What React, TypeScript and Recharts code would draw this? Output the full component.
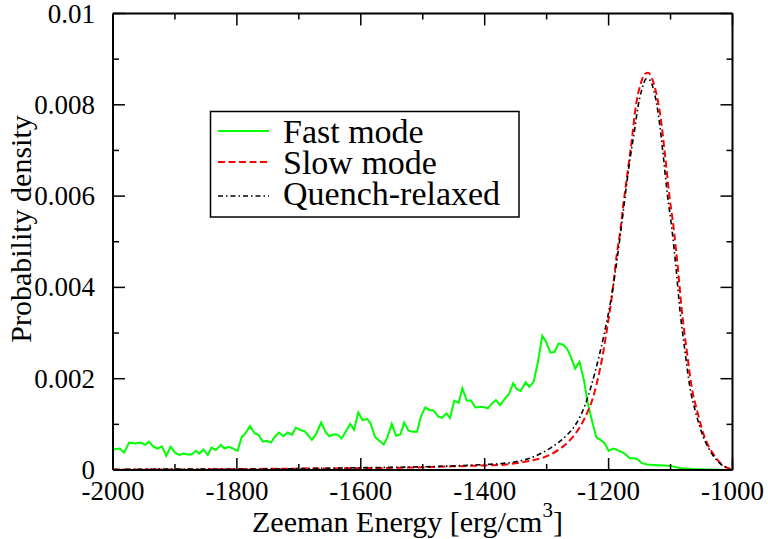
import React from 'react';
import { LineChart, Line, XAxis, YAxis } from 'recharts';

// [energy, probability density]
const fastMode: [number, number][] = [
  [-2000, 0.00045], [-1989, 0.00047], [-1982, 0.00038], [-1974, 0.0006], [-1964, 0.00058],
  [-1955, 0.0006], [-1948, 0.00055], [-1942, 0.00062], [-1935, 0.00051], [-1928, 0.00047],
  [-1921, 0.00052], [-1914, 0.00031], [-1907, 0.00051], [-1900, 0.00038], [-1893, 0.00033],
  [-1886, 0.00036], [-1879, 0.00034], [-1873, 0.00034], [-1866, 0.00042], [-1861, 0.00036],
  [-1854, 0.00045], [-1847, 0.00033], [-1841, 0.00049], [-1834, 0.00044], [-1826, 0.00055],
  [-1820, 0.00047], [-1813, 0.00051], [-1806, 0.00047], [-1799, 0.00042], [-1792, 0.00073],
  [-1787, 0.00079], [-1779, 0.00096], [-1771, 0.0008], [-1765, 0.00077], [-1758, 0.00062],
  [-1752, 0.00064], [-1745, 0.0006], [-1738, 0.00074], [-1732, 0.00082], [-1725, 0.00074],
  [-1718, 0.00082], [-1711, 0.00077], [-1705, 0.00093], [-1698, 0.00088], [-1690, 0.00084],
  [-1679, 0.00066], [-1672, 0.00079], [-1664, 0.00104], [-1657, 0.00084], [-1651, 0.00074],
  [-1643, 0.00078], [-1637, 0.00077], [-1631, 0.00069], [-1624, 0.00085], [-1617, 0.00101],
  [-1611, 0.00088], [-1604, 0.00126], [-1597, 0.00109], [-1590, 0.00112], [-1584, 0.00102],
  [-1577, 0.00072], [-1570, 0.00064], [-1563, 0.00056], [-1557, 0.00072], [-1550, 0.00101],
  [-1543, 0.00075], [-1536, 0.00078], [-1530, 0.00104], [-1523, 0.00086], [-1516, 0.00084],
  [-1509, 0.00084], [-1503, 0.00117], [-1496, 0.00137], [-1489, 0.00131], [-1483, 0.00131],
  [-1475, 0.00117], [-1469, 0.00114], [-1462, 0.00124], [-1456, 0.00114], [-1449, 0.00152],
  [-1442, 0.00147], [-1436, 0.00179], [-1429, 0.00152], [-1422, 0.00152], [-1415, 0.00137],
  [-1408, 0.00138], [-1402, 0.00138], [-1395, 0.00135], [-1388, 0.00146], [-1382, 0.00153],
  [-1375, 0.00142], [-1368, 0.00155], [-1361, 0.00166], [-1354, 0.0019], [-1348, 0.00177],
  [-1342, 0.00173], [-1334, 0.00192], [-1328, 0.00182], [-1321, 0.00193], [-1314, 0.00237],
  [-1307, 0.00294], [-1301, 0.00281], [-1294, 0.00257], [-1287, 0.00259], [-1281, 0.00277],
  [-1274, 0.00275], [-1267, 0.00266], [-1261, 0.00248], [-1254, 0.00222], [-1247, 0.00237],
  [-1240, 0.00198], [-1234, 0.00149], [-1227, 0.00109], [-1220, 0.00072], [-1213, 0.00066],
  [-1206, 0.00058], [-1200, 0.00042], [-1193, 0.00047], [-1186, 0.00044], [-1180, 0.0004],
  [-1173, 0.00035], [-1166, 0.00026], [-1159, 0.00026], [-1153, 0.00023], [-1146, 0.00015],
  [-1138, 0.00012], [-1127, 0.00011], [-1111, 0.0001], [-1100, 0.00009], [-1084, 0.00004],
  [-1063, 0.00002], [-1041, 0.00001], [-1009, 0], [-1000, 0],
];

const slowMode: [number, number][] = [
  [-2000, 0.00001], [-1900, 0.00001], [-1800, 0.00002], [-1700, 0.00003], [-1600, 0.00004],
  [-1500, 0.00006], [-1450, 0.00008], [-1400, 0.0001], [-1375, 0.00011], [-1350, 0.00015],
  [-1320, 0.00022], [-1295, 0.00033], [-1280, 0.00045], [-1262, 0.00066], [-1246, 0.00095],
  [-1234, 0.00127], [-1226, 0.00155], [-1219, 0.0019], [-1210, 0.00248], [-1202, 0.00314],
  [-1194, 0.00387], [-1187, 0.0047], [-1181, 0.00525], [-1176, 0.00584], [-1169, 0.00656],
  [-1162, 0.00729], [-1157, 0.00788], [-1148, 0.00847], [-1141, 0.00868], [-1136, 0.0087],
  [-1130, 0.00858], [-1124, 0.00831], [-1116, 0.00772], [-1109, 0.00691], [-1102, 0.00602],
  [-1095, 0.0053], [-1088, 0.0044], [-1082, 0.00352], [-1074, 0.00263], [-1066, 0.00183],
  [-1056, 0.00124], [-1045, 0.00072], [-1031, 0.00035], [-1018, 0.00013], [-1003, 0.00002],
];

const quenchRelaxed: [number, number][] = [
  [-2000, 0.00001], [-1900, 0.00002], [-1800, 0.00002], [-1700, 0.00003], [-1600, 0.00005],
  [-1500, 0.00007], [-1450, 0.00009], [-1400, 0.00012], [-1375, 0.00014], [-1350, 0.00018],
  [-1321, 0.00029], [-1294, 0.00048], [-1267, 0.00077], [-1257, 0.00092], [-1246, 0.00117],
  [-1237, 0.00146], [-1221, 0.00219], [-1207, 0.00299], [-1196, 0.00375], [-1188, 0.00445],
  [-1183, 0.00495], [-1176, 0.0057], [-1171, 0.00625], [-1165, 0.00685], [-1158, 0.00745],
  [-1153, 0.00792], [-1146, 0.00835], [-1139, 0.00857], [-1134, 0.00855], [-1127, 0.00831],
  [-1119, 0.00772], [-1112, 0.00691], [-1105, 0.00602], [-1098, 0.0053], [-1091, 0.0044],
  [-1085, 0.00352], [-1077, 0.00263], [-1069, 0.00183], [-1059, 0.00124], [-1047, 0.00072],
  [-1033, 0.00035], [-1019, 0.00013], [-1004, 0.00002],
];

const xTicks = [-2000, -1900, -1800, -1700, -1600, -1500, -1400, -1300, -1200, -1100, -1000];
const xLabels = ['-2000', '-1800', '-1600', '-1400', '-1200', '-1000'];
const yTicks = [0, 0.001, 0.002, 0.003, 0.004, 0.005, 0.006, 0.007, 0.008, 0.009, 0.01];
const yLabels = ['0', '0.002', '0.004', '0.006', '0.008', '0.01'];

const series = [
  { name: 'Fast mode', data: fastMode, color: '#00ff00', dash: undefined, width: 2, type: 'linear' },
  { name: 'Slow mode', data: slowMode, color: '#ff0000', dash: '7 3.5', width: 2, type: 'monotone' },
  { name: 'Quench-relaxed', data: quenchRelaxed, color: '#000000', dash: '5 3 1.5 3', width: 1.6, type: 'monotone' },
];

const FONT = '"Liberation Serif", "Times New Roman", serif';
const W = 768;
const H = 539;
// axes are 1px thick boxes, so the plot spans x 113..732.5, y 13.5..470
const M = { top: 12.5, right: 34.5, bottom: 68, left: 112 };

const toRows = (d: [number, number][]) => d.map(([e, p]) => ({ e, p }));

const isMajorX = (v: number) => xLabels.includes(String(v));
const yLabelOf = (v: number) => yLabels.find((l) => Math.abs(parseFloat(l) - v) < 1e-9);

const BottomTick = (props: any) => {
  const { x, y, payload } = props;
  const major = isMajorX(payload.value);
  return (
    <g>
      <line x1={x} x2={x} y1={y} y2={y - (major ? 12 : 6)} stroke="#000" strokeWidth={1.5} />
      {major && (
        <text x={x} y={y + 30} textAnchor="middle" fontFamily={FONT} fontSize={27} fill="#000">
          {payload.value}
        </text>
      )}
    </g>
  );
};

const TopTick = (props: any) => {
  const { x, y, payload } = props;
  const major = isMajorX(payload.value);
  return <line x1={x} x2={x} y1={y} y2={y + (major ? 12 : 6)} stroke="#000" strokeWidth={1.5} />;
};

const LeftTick = (props: any) => {
  const { x, y, payload } = props;
  const label = yLabelOf(payload.value);
  return (
    <g>
      <line x1={x} x2={x + (label ? 12 : 6)} y1={y} y2={y} stroke="#000" strokeWidth={1.5} />
      {label && (
        <text x={x - 18} y={y + 9} textAnchor="end" fontFamily={FONT} fontSize={27} fill="#000">
          {label}
        </text>
      )}
    </g>
  );
};

const RightTick = (props: any) => {
  const { x, y, payload } = props;
  const major = !!yLabelOf(payload.value);
  return <line x1={x} x2={x - (major ? 12 : 6)} y1={y} y2={y} stroke="#000" strokeWidth={1.5} />;
};

const LegendBox = () => (
  <svg width={312} height={109} style={{ position: 'absolute', left: 209, top: 110 }}>
    <rect x={1.5} y={1.5} width={308.5} height={105.5} fill="#fff" stroke="#000" strokeWidth={1.5} />
    {series.map((s, i) => {
      const cy = [21, 52, 86][i];
      const by = [33, 64, 95][i];
      return (
        <g key={s.name}>
          <line x1={9} x2={60} y1={cy} y2={cy} stroke={s.color} strokeWidth={s.width} strokeDasharray={s.dash} />
          <text x={74} y={by} fontFamily={FONT} fontSize={34} fill="#000">
            {s.name}
          </text>
        </g>
      );
    })}
  </svg>
);

export default function App() {
  return (
    <div style={{ position: 'absolute', left: 0, top: 0, width: W, height: H, background: '#fff' }}>
      <LineChart width={W} height={H} margin={M}>
        <XAxis
          xAxisId="bottom"
          dataKey="e"
          type="number"
          domain={[-2000, -1000]}
          ticks={xTicks}
          interval={0}
          height={1}
          tickSize={0}
          tickMargin={0}
          tick={BottomTick}
          tickLine={false}
          axisLine={{ stroke: '#000', strokeWidth: 2 }}
          allowDataOverflow
        />
        <XAxis
          xAxisId="top"
          orientation="top"
          dataKey="e"
          type="number"
          domain={[-2000, -1000]}
          ticks={xTicks}
          interval={0}
          height={1}
          tickSize={0}
          tickMargin={0}
          tick={TopTick}
          tickLine={false}
          axisLine={{ stroke: '#000', strokeWidth: 2 }}
          allowDataOverflow
        />
        <YAxis
          yAxisId="left"
          type="number"
          domain={[0, 0.01]}
          ticks={yTicks}
          interval={0}
          width={1}
          tickSize={0}
          tickMargin={0}
          tick={LeftTick}
          tickLine={false}
          axisLine={{ stroke: '#000', strokeWidth: 2 }}
          allowDataOverflow
        />
        <YAxis
          yAxisId="right"
          orientation="right"
          type="number"
          domain={[0, 0.01]}
          ticks={yTicks}
          interval={0}
          width={1}
          tickSize={0}
          tickMargin={0}
          tick={RightTick}
          tickLine={false}
          axisLine={{ stroke: '#000', strokeWidth: 2 }}
          allowDataOverflow
        />
        {series.map((s) => (
          <Line
            key={s.name}
            xAxisId="bottom"
            yAxisId="left"
            data={toRows(s.data)}
            dataKey="p"
            type={s.type as any}
            stroke={s.color}
            strokeWidth={s.width}
            strokeDasharray={s.dash}
            dot={false}
            activeDot={false}
            isAnimationActive={false}
          />
        ))}
      </LineChart>
      <svg width={W} height={H} style={{ position: 'absolute', left: 0, top: 0, pointerEvents: 'none' }}>
        <text
          x={31}
          y={229}
          transform="rotate(-90 31 229)"
          textAnchor="middle"
          fontFamily={FONT}
          fontSize={30}
          fill="#000"
        >
          Probability density
        </text>
        <text x={252} y={532} fontFamily={FONT} fontSize={30} fill="#000">
          Zeeman Energy [erg/cm
          <tspan dy={-15} fontSize={21}>3</tspan>
          <tspan dy={15}>]</tspan>
        </text>
      </svg>
      <LegendBox />
    </div>
  );
}
